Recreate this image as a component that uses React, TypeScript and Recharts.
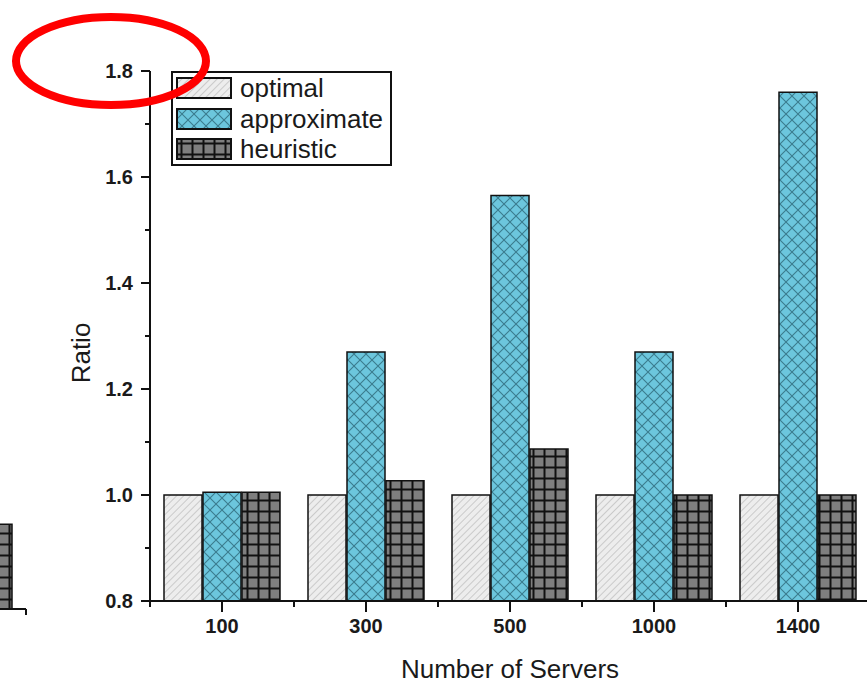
import { BarChart, Bar, XAxis, YAxis, Legend } from "recharts";

const servers = ["100", "300", "500", "1000", "1400"];
const optimal = [1.0, 1.0, 1.0, 1.0, 1.0];
const approximate = [1.005, 1.27, 1.565, 1.27, 1.76];
const heuristic = [1.005, 1.027, 1.087, 1.0, 1.0];
// every 0.1 gets a tick, every 0.2 gets a label
const yTicks = [0.8, 0.9, 1.0, 1.1, 1.2, 1.3, 1.4, 1.5, 1.6, 1.7, 1.8];
const yLabelled = [0.8, 1.0, 1.2, 1.4, 1.6, 1.8];
// neighbouring panel, cut off at the left edge of the picture
const leftPanel = [{ name: "1400", heuristic: 0.96 }];

const data = servers.map((name, i) => ({
  name,
  optimal: optimal[i],
  approximate: approximate[i],
  heuristic: heuristic[i],
}));

const FONT = '"Liberation Sans", Arial, sans-serif';
const INK = "#1a1a1a";

const series = [
  { key: "optimal", label: "optimal", fill: "url(#pOpt)" },
  { key: "approximate", label: "approximate", fill: "url(#pApx)" },
  { key: "heuristic", label: "heuristic", fill: "url(#pHeu)" },
];

const Patterns = () => (
  <defs>
    <pattern id="pOpt" patternUnits="userSpaceOnUse" width="5" height="5" patternTransform="rotate(45)">
      <rect width="5" height="5" fill="#ededed" />
      <line x1="0" y1="0" x2="0" y2="5" stroke="#b3b3b3" strokeWidth="1.2" />
    </pattern>
    <pattern id="pApx" patternUnits="userSpaceOnUse" width="12" height="12">
      <rect width="12" height="12" fill="#6cc6dd" />
      <path d="M0,0 L12,12 M12,0 L0,12" stroke="#3a7b8e" strokeWidth="1.1" />
    </pattern>
    <pattern id="pHeu" patternUnits="userSpaceOnUse" width="11" height="11">
      <rect width="11" height="11" fill="#7f7f7f" />
      <path d="M5.5,0 V11 M0,5.5 H11" stroke="#111" strokeWidth="2" />
    </pattern>
  </defs>
);

const LegendBox = () => (
  <div
    style={{
      border: "2px solid #111",
      background: "#fff",
      width: 221,
      height: 95,
      boxSizing: "border-box",
      display: "flex",
      flexDirection: "column",
      justifyContent: "space-evenly",
      paddingLeft: 3,
    }}
  >
    {series.map((s) => (
      <div key={s.key} style={{ display: "flex", alignItems: "center", height: 30 }}>
        <svg width={56} height={22} style={{ display: "block" }}>
          <rect x={1} y={1} width={54} height={20} fill={s.fill} stroke="#111" strokeWidth={2} />
        </svg>
        <span style={{ marginLeft: 8, fontSize: 26, fontFamily: FONT, color: INK, lineHeight: "26px" }}>
          {s.label}
        </span>
      </div>
    ))}
  </div>
);

const YTitle = ({ viewBox }: any) => {
  const cx = 90;
  const cy = viewBox.y + viewBox.height / 2 + 17;
  return (
    <text x={cx} y={cy} transform={`rotate(-90 ${cx} ${cy})`} textAnchor="middle" fontSize={26} fontFamily={FONT} fill={INK}>
      Ratio
    </text>
  );
};

const XTitle = ({ viewBox }: any) => (
  <text x={viewBox.x + viewBox.width / 2} y={viewBox.y + 77} textAnchor="middle" fontSize={26} fontFamily={FONT} fill={INK}>
    Number of Servers
  </text>
);

// y ticks: long tick + label on the 0.2 steps, short tick in between
const YTick = ({ x, y, payload }: any) => {
  const major = yLabelled.includes(payload.value);
  return (
    <g>
      <line x1={x - (major ? 9 : 5)} y1={y} x2={x} y2={y} stroke="#111" strokeWidth={2} />
      {major && (
        <text x={x - 17} y={y} dy="0.35em" textAnchor="end" fontSize={20} fontWeight="bold" fontFamily={FONT} fill={INK}>
          {payload.value.toFixed(1)}
        </text>
      )}
    </g>
  );
};

// x ticks: long tick at the category, short ticks at the band edges
const XTick = ({ x, y, payload }: any) => {
  const half = payload.offset || 0;
  const last = payload.value === servers[servers.length - 1];
  return (
    <g>
      <line x1={x} y1={y} x2={x} y2={y + 11} stroke="#111" strokeWidth={2} />
      <line x1={x - half} y1={y} x2={x - half} y2={y + 6} stroke="#111" strokeWidth={2} />
      {last && <line x1={x + half} y1={y} x2={x + half} y2={y + 6} stroke="#111" strokeWidth={2} />}
      <text x={x} y={y + 18} dy="0.71em" textAnchor="middle" fontSize={20} fontWeight="bold" fontFamily={FONT} fill={INK}>
        {payload.value}
      </text>
    </g>
  );
};

const EdgeTick = ({ x, y, payload }: any) => {
  const half = payload.offset || 0;
  return <line x1={x + half} y1={y} x2={x + half} y2={y + 6} stroke="#111" strokeWidth={2} />;
};

const axisStroke = { stroke: "#111", strokeWidth: 2 };

export default function App() {
  return (
    <div style={{ position: "fixed", left: 0, top: 0, width: 867, height: 683, overflow: "hidden", background: "#fff" }}>
      <div style={{ position: "absolute", left: -40, top: 0 }}>
        <BarChart width={70} height={683} data={leftPanel} margin={{ top: 80, right: 4, left: 0, bottom: 0 }}>
          <Patterns />
          <XAxis dataKey="name" height={74} tick={<EdgeTick />} tickLine={false} tickSize={0} tickMargin={0} axisLine={axisStroke} />
          <YAxis hide domain={[0.8, 1.8]} />
          <Bar dataKey="heuristic" fill="url(#pHeu)" stroke="#111" strokeWidth={1.5} barSize={38} isAnimationActive={false} />
        </BarChart>
      </div>
      <div style={{ position: "absolute", left: 0, top: 0 }}>
        <BarChart width={880} height={683} data={data} margin={{ top: 71, right: 10, left: 0, bottom: 0 }} barGap={1}>
          <Patterns />
          <XAxis
            dataKey="name"
            height={82}
            tickSize={0}
            tickMargin={0}
            tick={<XTick />}
            tickLine={false}
            axisLine={axisStroke}
            label={<XTitle />}
          />
          <YAxis
            type="number"
            domain={[0.8, 1.8]}
            ticks={yTicks}
            interval={0}
            width={150}
            tickSize={0}
            tickMargin={0}
            tick={<YTick />}
            tickLine={false}
            axisLine={axisStroke}
            label={<YTitle />}
          />
          <Legend
            layout="vertical"
            align="center"
            verticalAlign="middle"
            wrapperStyle={{ top: 71, left: 171, width: "auto" }}
            content={() => <LegendBox />}
          />
          {series.map((s) => (
            <Bar
              key={s.key}
              dataKey={s.key}
              name={s.label}
              fill={s.fill}
              stroke="#111"
              strokeWidth={1.5}
              barSize={38}
              isAnimationActive={false}
            />
          ))}
        </BarChart>
      </div>
      <svg width={867} height={683} style={{ position: "absolute", left: 0, top: 0, pointerEvents: "none" }}>
        <ellipse cx={111} cy={61} rx={95} ry={44} fill="none" stroke="#ff0000" strokeWidth={8} />
      </svg>
    </div>
  );
}
